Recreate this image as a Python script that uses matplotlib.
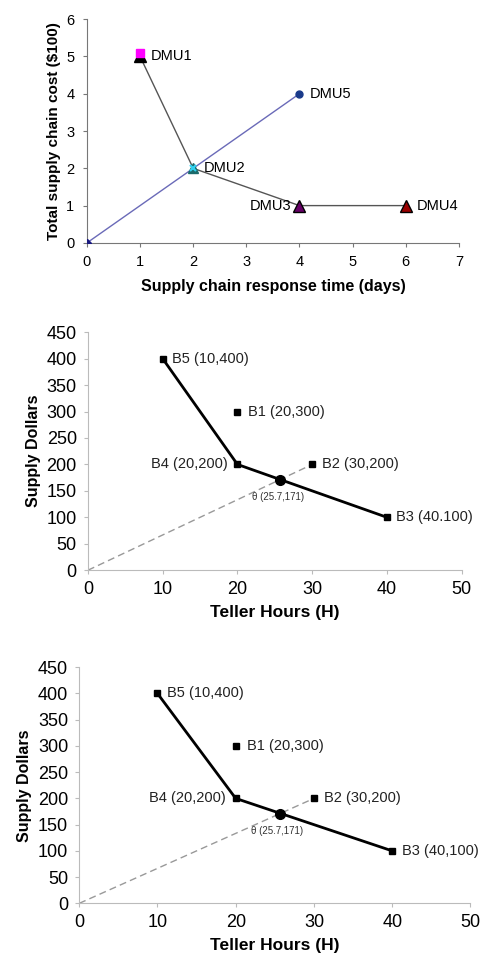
import matplotlib.pyplot as plt

plt.rcParams['font.family'] = ['Liberation Sans', 'DejaVu Sans']

# top chart: supply chain DMUs
dmu_names = ['DMU1', 'DMU2', 'DMU3', 'DMU4', 'DMU5']
dmu_x = [1, 2, 4, 6, 4]
dmu_y = [5, 2, 1, 1, 4]
frontier_x = [1, 2, 4, 6]
frontier_y = [5, 2, 1, 1]
ray_x = [0, 2, 4]
ray_y = [0, 2, 4]

# lower charts: bank branches
branch_names = ['B5 (10,400)', 'B1 (20,300)', 'B4 (20,200)', 'B2 (30,200)', 'B3 (40.100)']
branch_names3 = ['B5 (10,400)', 'B1 (20,300)', 'B4 (20,200)', 'B2 (30,200)', 'B3 (40,100)']
hours = [10, 20, 20, 30, 40]
dollars = [400, 300, 200, 200, 100]
eff_x = [10, 20, 40]
eff_y = [400, 200, 100]
theta_x = 25.7
theta_y = 171
theta_label = 'θ (25.7,171)'

fig = plt.figure(figsize=(4.83, 9.6), dpi=100)

# ---- panel 1
ax = fig.add_axes([0.180, 0.747, 0.770, 0.233])
ax.plot(ray_x, ray_y, color='#6a6ab8', lw=1.0, zorder=2)
ax.plot(frontier_x, frontier_y, color='#555555', lw=1.0, zorder=2)
ax.plot(0, 0, marker='D', color='#1a1a80', ms=4, zorder=4)
ax.plot(dmu_x[4], dmu_y[4], marker='o', color='#1a3a8a', ms=5, zorder=4)
ax.plot(dmu_x[0], dmu_y[0], marker='^', color='black', ms=8, zorder=3)
ax.plot(dmu_x[0], dmu_y[0] + 0.08, marker='s', color='#ff00ff', ms=6, zorder=4)
ax.plot(dmu_x[1], dmu_y[1], marker='^', color='#1a6a6a', ms=7, zorder=3)
ax.plot(dmu_x[1], dmu_y[1], marker='x', color='#30d0f0', ms=5, mew=1.5, zorder=4)
ax.plot(dmu_x[2], dmu_y[2], marker='^', color='#660066', mec='black', ms=8, zorder=4)
ax.plot(dmu_x[3], dmu_y[3], marker='^', color='#990000', mec='black', ms=8, zorder=4)
offsets = [(0.2, 0), (0.2, 0), (-0.15, 0), (0.2, 0), (0.2, 0)]
for i, name in enumerate(dmu_names):
    dx, dy = offsets[i]
    ha = 'right' if dx < 0 else 'left'
    ax.text(dmu_x[i] + dx, dmu_y[i] + dy, name, ha=ha, va='center', fontsize=10.5)
ax.set_xlim(0, 7)
ax.set_ylim(0, 6)
ax.set_xticks(range(8))
ax.set_yticks(range(7))
ax.set_xlabel('Supply chain response time (days)', fontsize=11.5, fontweight='bold', labelpad=7)
ax.set_ylabel('Total supply chain cost ($100)', fontsize=11, fontweight='bold', labelpad=4)
ax.tick_params(labelsize=10.5, length=3, color='#777777', pad=6)
for s in ['top', 'right']:
    ax.spines[s].set_visible(False)
for s in ['left', 'bottom']:
    ax.spines[s].set_color('#777777')


def bank_panel(rect, names):
    ax = fig.add_axes(rect)
    ax.plot([0, hours[3]], [0, dollars[3]], color='#999999', lw=1.0, ls=(0, (5, 3)), zorder=2)
    ax.plot(eff_x, eff_y, color='black', lw=2.0, zorder=3)
    ax.plot(hours, dollars, 's', color='black', ms=5, zorder=4)
    ax.plot(theta_x, theta_y, 'o', color='black', ms=7, zorder=5)
    pos = [(1.2, 0, 'left'), (1.4, 0, 'left'), (-1.3, 0, 'right'), (1.3, 0, 'left'), (1.2, 0, 'left')]
    for i, name in enumerate(names):
        dx, dy, ha = pos[i]
        ax.text(hours[i] + dx, dollars[i] + dy, name, ha=ha, va='center', fontsize=10.5, color='#222222')
    ax.text(theta_x - 3.8, theta_y - 33, theta_label, fontsize=7, color='#333333', va='center')
    ax.set_xlim(0, 50)
    ax.set_ylim(0, 450)
    ax.set_xticks(range(0, 51, 10))
    ax.set_yticks(range(0, 451, 50))
    ax.set_xlabel('Teller Hours (H)', fontsize=12.5, fontweight='bold', labelpad=5)
    ax.set_ylabel('Supply Dollars', fontsize=11.5, fontweight='bold', labelpad=4)
    ax.tick_params(labelsize=13, length=3, color='#bbbbbb', pad=5)
    for s in ['top', 'right']:
        ax.spines[s].set_visible(False)
    for s in ['left', 'bottom']:
        ax.spines[s].set_color('#bbbbbb')
    return ax


bank_panel([0.182, 0.406, 0.774, 0.248], branch_names)
bank_panel([0.164, 0.059, 0.810, 0.246], branch_names3)

fig.savefig('out.png', dpi=100)
